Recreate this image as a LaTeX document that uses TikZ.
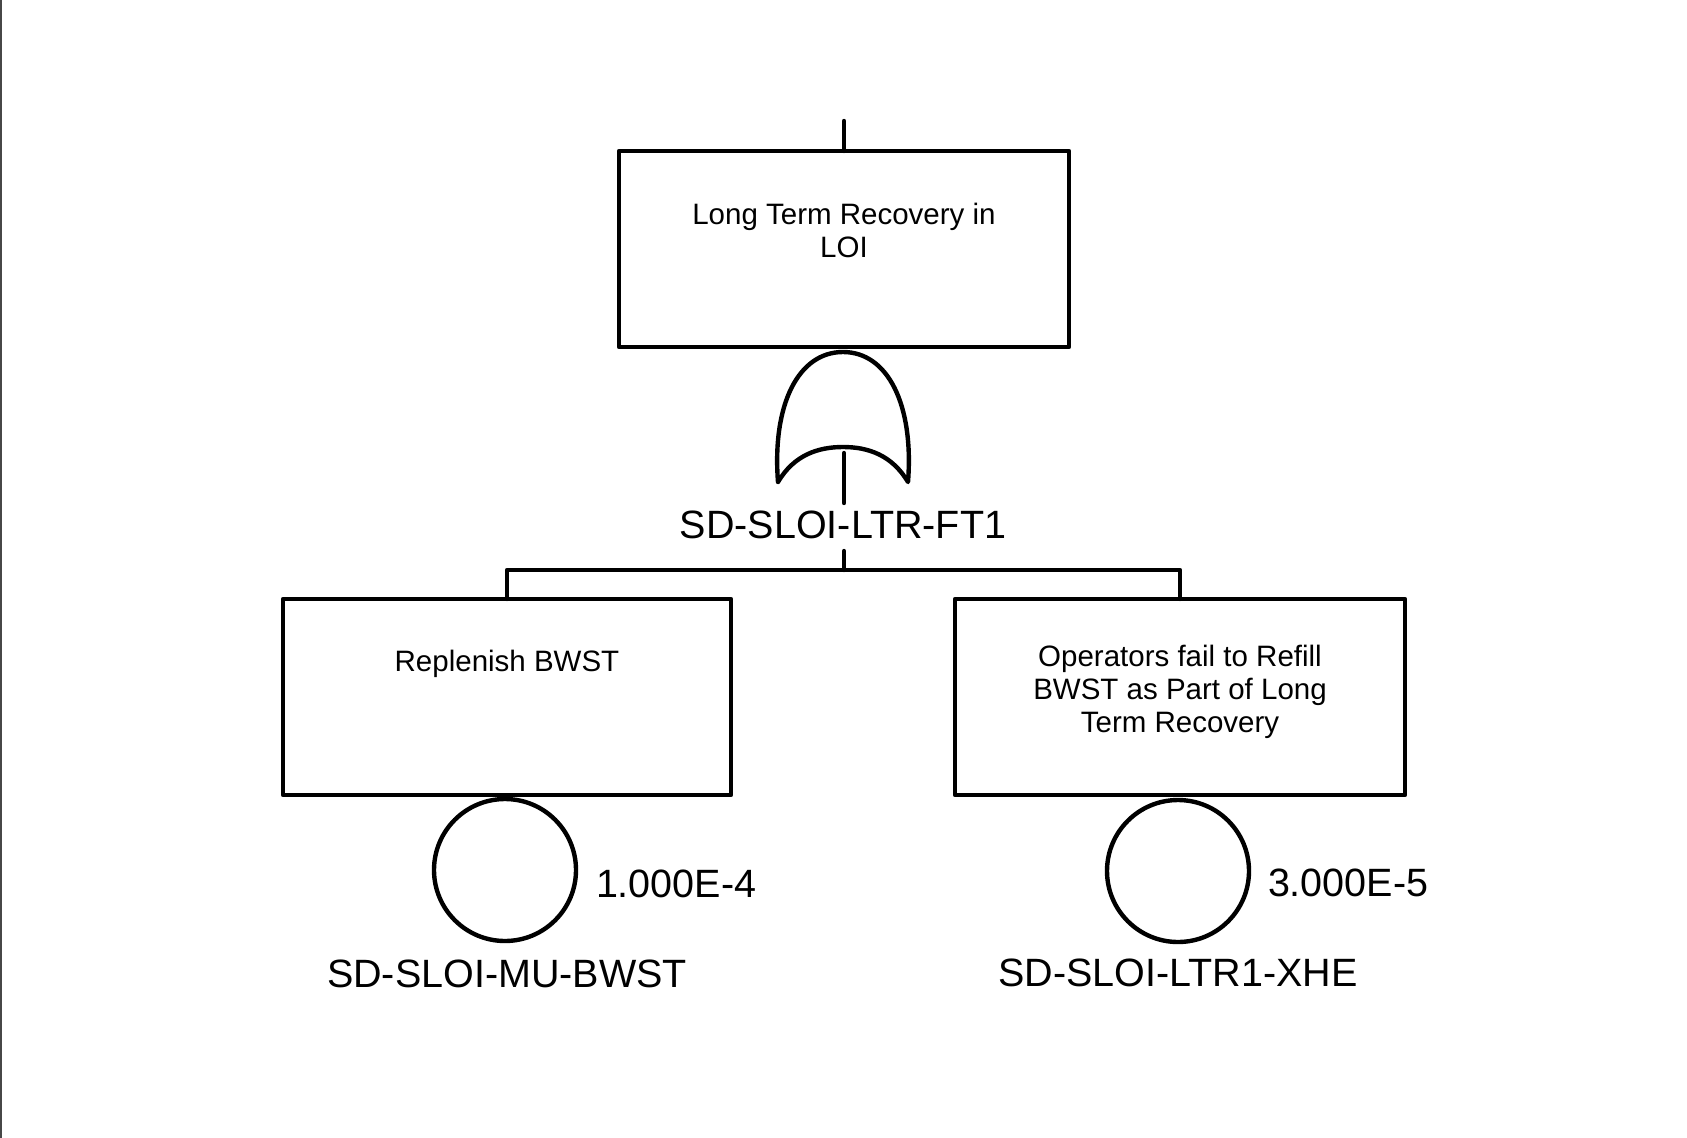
\documentclass[tikz,border=0pt]{standalone}
\usepackage{fontspec}
\setmainfont{Liberation Sans}
\begin{document}
\begin{tikzpicture}[x=1pt,y=-1pt,
  every node/.style={inner sep=0pt, outer sep=0pt},
  ln/.style={line width=4.4pt, line cap=round, line join=round},
  evbox/.style={draw, line width=4.4pt, line join=round, minimum height=196pt},
  basic/.style={draw, circle, line width=4.4pt, minimum size=142pt},
  boxtext/.style={align=center, font=\fontsize{29.5}{33.3}\selectfont},
  biglabel/.style={font=\fontsize{39.5}{44}\selectfont}
]
\path[fill=white] (0,0) rectangle (1687,1138);
\useasboundingbox (0,0) rectangle (1687,1138);
\draw[line width=2.5pt, color=black!72] (1.2,0) -- (1.2,1138);

% top event
\node[evbox, minimum width=450pt] (top) at (844,249) {};
\node[boxtext, anchor=north] (toptxt) at (844,203) {Long Term Recovery in\\LOI};
\coordinate (topin) at (844,121);
\draw[ln] (topin) -- (top.north);

% OR gate
\coordinate (gL) at (778,482);
\coordinate (gT) at (843,352);
\coordinate (gR) at (908,482);
\coordinate (gM) at (843,447);
\draw[ln] (gL) .. controls (772,405) and (798,352) .. (gT)
          .. controls (888,352) and (914,405) .. (gR)
          .. controls (892,455) and (868,447) .. (gM)
          .. controls (818,447) and (794,455) .. (gL);
\coordinate (gatein) at (844,453);
\coordinate (gatestem) at (844,503);
\draw[ln] (gatein) -- (gatestem);
\node[biglabel, anchor=base] (gatelbl) at (843,538) {SD-SLOI-LTR-FT1};
\coordinate (busin) at (844,551);
\coordinate (bus) at (844,570);

% basic event boxes
\node[evbox, minimum width=448pt] (L) at (507,697) {};
\node[evbox, minimum width=450pt] (R) at (1180,697) {};
\node[boxtext, anchor=base] (Ltxt) at (507,671) {Replenish BWST};
\node[boxtext, anchor=north] (Rtxt) at (1180,645) {Operators fail to Refill\\BWST as Part of Long\\Term Recovery};

\draw[ln] (busin) -- (bus);
\draw[ln] (L.north) |- (bus) -| (R.north);

% circles
\node[basic] (Lc) at (505,870) {};
\node[basic] (Rc) at (1178,871) {};
\node[biglabel, anchor=base west] (Lp) at (596,897) {1.000E-4};
\node[biglabel, anchor=base west] (Rp) at (1268,896) {3.000E-5};
\node[biglabel, anchor=base] (Lname) at (507,987) {SD-SLOI-MU-BWST};
\node[biglabel, anchor=base] (Rname) at (1178,986) {SD-SLOI-LTR1-XHE};
\end{tikzpicture}
\end{document}
